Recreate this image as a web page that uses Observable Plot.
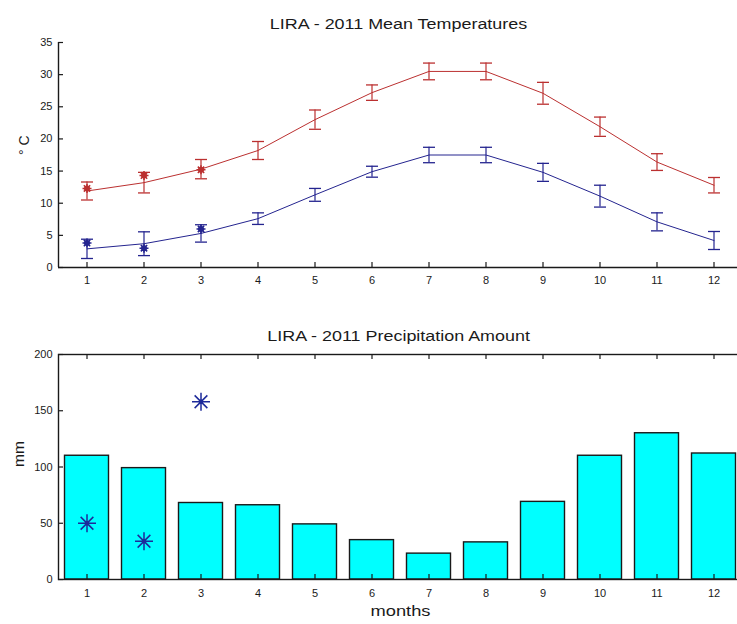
<!DOCTYPE html>
<html><head><meta charset="utf-8">
<script src="https://cdn.jsdelivr.net/npm/d3@7"></script>
<script src="https://cdn.jsdelivr.net/npm/@observablehq/plot@0.6"></script>
<style>
html,body{margin:0;padding:0;background:#fff;overflow:hidden;width:737px;height:624px;}
#root{position:relative;width:737px;height:624px;overflow:hidden;font-family:"Liberation Sans",Arial,sans-serif;}
.title{position:absolute;left:0;width:798px;text-align:center;font-size:14px;line-height:16px;color:#1a1a1a;white-space:nowrap;}
.title span{display:inline-block;transform:scaleX(1.28);}
.chart{position:absolute;left:0;width:745px;}
.chart svg{max-width:none !important;}
</style>
</head><body>
<div id="root">
  <div class="title" id="t1" style="top:16px"><span>LIRA - 2011 Mean Temperatures</span></div>
  <div class="title" id="t2" style="top:328px"><span>LIRA - 2011 Precipitation Amount</span></div>
  <div class="chart" id="c1" style="top:0"></div>
  <div class="chart" id="c2" style="top:300px"></div>
</div>
<script>
// ---------- data ----------
const months = [1,2,3,4,5,6,7,8,9,10,11,12];
const xDomain = [0.5, 12.5];
const tempTicks = [0,5,10,15,20,25,30,35];
const precipTicks = [0,50,100,150,200];

const tmaxMean = [11.9,13.2,15.3,18.2,23.0,27.2,30.5,30.5,27.1,21.9,16.4,12.8];
const tmaxErr  = [1.4,1.6,1.5,1.4,1.5,1.2,1.3,1.3,1.7,1.5,1.3,1.2];
const tminMean = [2.9,3.7,5.3,7.6,11.3,14.9,17.5,17.5,14.8,11.1,7.1,4.2];
const tminErr  = [1.5,1.85,1.35,0.9,1.0,0.85,1.2,1.2,1.4,1.7,1.4,1.4];

const obsMonths = [1,2,3];
const tmax2011 = [12.3,14.3,15.2];
const tmin2011 = [3.8,3.0,6.0];

const precipMean = [110,99,68,66,49,35,23,33,69,110,130,112];
const precip2011 = [50,34,158];

// ---------- styling ----------
const RED = "#bb3030", BLUE = "#24248f", STAR = "#1d2a9a", CYAN = "#00ffff", INK = "#1a1a1a";
const FONT = "'Liberation Sans', Arial, sans-serif";

const capSymbol = {draw(ctx, size){ const r = Math.sqrt(size/Math.PI); ctx.moveTo(-r,0); ctx.lineTo(r,0); }};
const starSymbol = {draw(ctx, size){
  const r = Math.sqrt(size/Math.PI), d = r*Math.SQRT1_2;
  ctx.moveTo(-r,0); ctx.lineTo(r,0);
  ctx.moveTo(0,-r); ctx.lineTo(0,r);
  ctx.moveTo(-d,-d); ctx.lineTo(d,d);
  ctx.moveTo(-d,d); ctx.lineTo(d,-d);
}};

const tmax = months.map((m,i)=>({m, v:tmaxMean[i], lo:tmaxMean[i]-tmaxErr[i], hi:tmaxMean[i]+tmaxErr[i]}));
const tmin = months.map((m,i)=>({m, v:tminMean[i], lo:tminMean[i]-tminErr[i], hi:tminMean[i]+tminErr[i]}));
const obsMax = obsMonths.map((m,i)=>({m, v:tmax2011[i]}));
const obsMin = obsMonths.map((m,i)=>({m, v:tmin2011[i]}));
const precip = months.map((m,i)=>({m, v:precipMean[i]}));
const precipObs = obsMonths.map((m,i)=>({m, v:precip2011[i]}));

function series(data, color){
  return [
    Plot.line(data, {x:"m", y:"v", stroke:color, strokeWidth:1}),
    Plot.ruleX(data, {x:"m", y1:"lo", y2:"hi", stroke:color, strokeWidth:1.2}),
    Plot.dot(data, {x:"m", y:"hi", symbol:capSymbol, r:6, stroke:color, fill:"none", strokeWidth:1.3}),
    Plot.dot(data, {x:"m", y:"lo", symbol:capSymbol, r:6, stroke:color, fill:"none", strokeWidth:1.3})
  ];
}
function markers(data, color){
  return [
    Plot.dot(data, {x:"m", y:"v", symbol:starSymbol, r:4.5, stroke:color, fill:"none", strokeWidth:1.5}),
    Plot.dot(data, {x:"m", y:"v", r:3, fill:color, stroke:"none"})
  ];
}

const W = 745, ML = 58, MR = 3;
const plotW = W - ML - MR;

// ---------- temperature chart ----------
const H1 = 300, MT1 = 42, MB1 = 33, plotH1 = H1 - MT1 - MB1;
const chart1 = Plot.plot({
  width: W, height: H1, marginLeft: ML, marginRight: MR, marginTop: MT1, marginBottom: MB1,
  style: {fontFamily: FONT, fontSize: "11px", color: INK, background: "transparent", overflow: "visible", maxWidth: "none"},
  x: {domain: xDomain, axis: null},
  y: {domain: [0, 35], axis: null},
  marks: [
    ...series(tmax, RED),
    ...series(tmin, BLUE),
    ...markers(obsMax, RED),
    ...markers(obsMin, BLUE),
    Plot.ruleX([xDomain[0]], {stroke: INK, strokeWidth: 1.4}),
    Plot.ruleY([0], {stroke: INK, strokeWidth: 1.4}),
    Plot.tickX(months, {x: d=>d, insetTop: plotH1 - 5, stroke: INK, strokeWidth: 1.2}),
    Plot.tickY(tempTicks, {y: d=>d, insetRight: plotW - 5, stroke: INK, strokeWidth: 1.2}),
    Plot.axisX({ticks: months, anchor: "bottom", tickSize: 0, tickPadding: 9, label: null, tickFormat: d=>String(d)}),
    Plot.axisY({ticks: tempTicks, anchor: "left", tickSize: 0, tickPadding: 6, label: null, tickFormat: d=>String(d)}),
    Plot.text(["° C"], {frameAnchor: "left", rotate: -90, dx: -34, fontSize: 14, fill: INK})
  ]
});
document.getElementById("c1").appendChild(chart1);

// ---------- precipitation chart ----------
const H2 = 324, MT2 = 54, MB2 = 45, plotH2 = H2 - MT2 - MB2;
const chart2 = Plot.plot({
  width: W, height: H2, marginLeft: ML, marginRight: MR, marginTop: MT2, marginBottom: MB2,
  style: {fontFamily: FONT, fontSize: "11px", color: INK, background: "transparent", overflow: "visible", maxWidth: "none"},
  x: {domain: xDomain, axis: null},
  y: {domain: [0, 200], axis: null},
  marks: [
    Plot.rectY(precip, {x1: d=>d.m-0.5, x2: d=>d.m+0.5, y: "v", fill: CYAN, stroke: INK, strokeWidth: 1.4, insetLeft: 6.5, insetRight: 6.5}),
    Plot.dot(precipObs, {x:"m", y:"v", symbol: starSymbol, r: 9, stroke: STAR, fill: "none", strokeWidth: 1.5}),
    Plot.dot(precipObs, {x:"m", y:"v", r: 2.2, fill: STAR, stroke: "none"}),
    Plot.frame({stroke: INK, strokeWidth: 1.4}),
    Plot.tickX(months, {x: d=>d, insetTop: plotH2 - 5, stroke: INK, strokeWidth: 1.2}),
    Plot.tickX(months, {x: d=>d, insetBottom: plotH2 - 5, stroke: INK, strokeWidth: 1.2}),
    Plot.tickY(precipTicks, {y: d=>d, insetRight: plotW - 5, stroke: INK, strokeWidth: 1.2}),
    Plot.axisX({ticks: months, anchor: "bottom", tickSize: 0, tickPadding: 10, label: null, tickFormat: d=>String(d)}),
    Plot.axisY({ticks: precipTicks, anchor: "left", tickSize: 0, tickPadding: 6, label: null, tickFormat: d=>String(d)}),
    Plot.text(["mm"], {frameAnchor: "left", rotate: -90, dx: -39, fontSize: 14, fill: INK}),
    Plot.text(["months"], {frameAnchor: "bottom", dy: 36, fontSize: 14, fill: INK})
  ]
});
document.getElementById("c2").appendChild(chart2);

// stretch the wide axis labels like the source rendering
d3.selectAll("svg text").each(function(){
  const t = this.textContent;
  if (t === "months") { this.setAttribute("textLength", 60); this.setAttribute("lengthAdjust", "spacingAndGlyphs"); }
  if (t === "mm") { this.setAttribute("textLength", 26); this.setAttribute("lengthAdjust", "spacingAndGlyphs"); }
});
</script>
</body></html>
